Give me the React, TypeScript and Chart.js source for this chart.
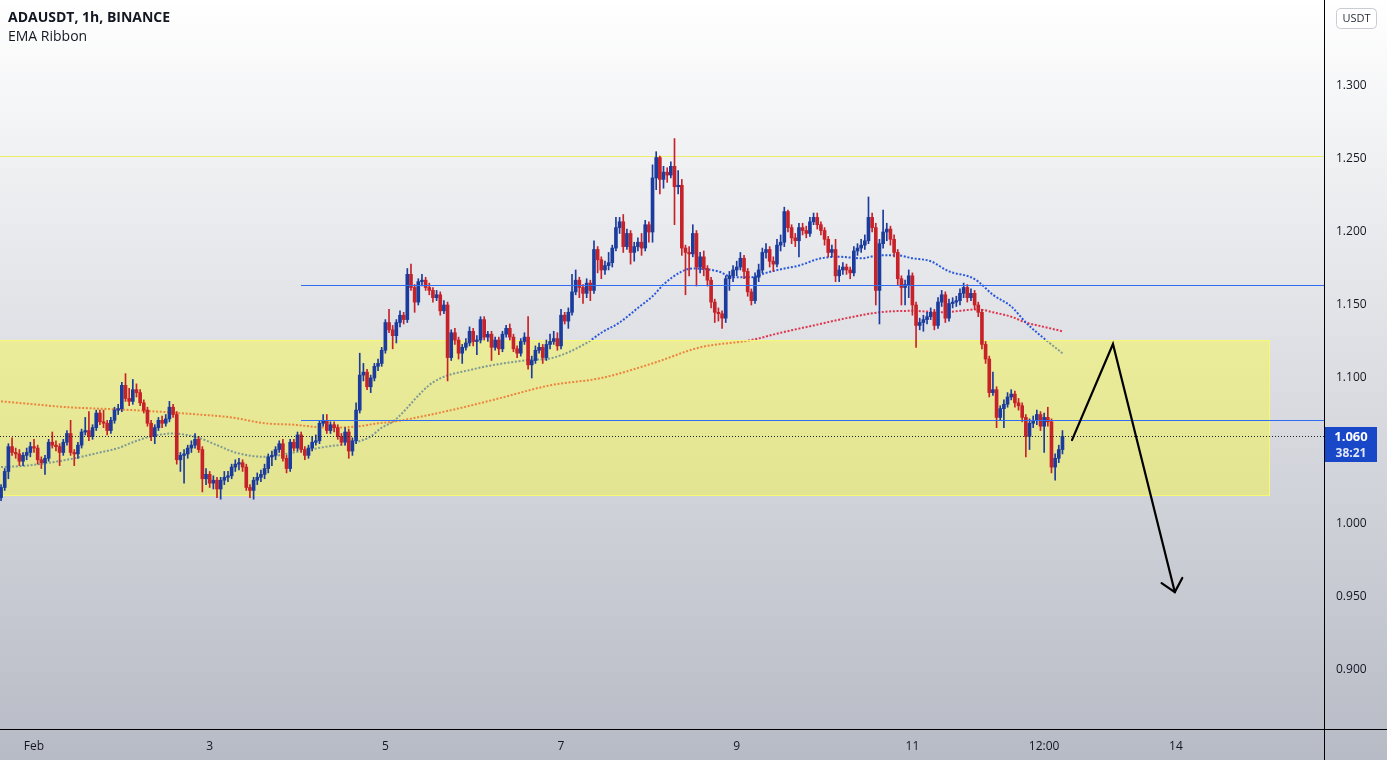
import React, { useEffect, useRef } from 'react';
import { Chart, registerables } from 'chart.js';

Chart.register(...registerables);

// ---------- data (ADAUSDT 1h candles, index 0 = Jan 31 15:00) ----------
const firstOpen = 1.018;
const closes = [
  1.025,1.036,1.053,1.049,1.048,1.043,1.047,1.049,1.053,1.052,
  1.044,1.042,1.045,1.056,1.054,1.053,1.049,1.056,1.062,1.049,
  1.048,1.054,1.063,1.064,1.060,1.066,1.076,1.070,1.069,1.064,
  1.071,1.078,1.079,1.095,1.086,1.084,1.092,1.090,1.083,1.078,
  1.069,1.060,1.066,1.071,1.069,1.072,1.080,1.075,1.044,1.047,
  1.048,1.052,1.054,1.058,1.051,1.031,1.034,1.028,1.030,1.024,
  1.030,1.032,1.033,1.039,1.041,1.042,1.039,1.025,1.023,1.030,
  1.032,1.034,1.038,1.046,1.047,1.051,1.055,1.045,1.038,1.056,
  1.052,1.061,1.051,1.047,1.052,1.056,1.057,1.069,1.071,1.064,
  1.068,1.066,1.060,1.056,1.063,1.050,1.057,1.078,1.102,1.104,
  1.094,1.100,1.108,1.110,1.119,1.138,1.133,1.129,1.138,1.143,
  1.140,1.171,1.162,1.152,1.166,1.167,1.162,1.160,1.155,1.157,
  1.146,1.150,1.114,1.131,1.126,1.117,1.121,1.124,1.132,1.125,
  1.126,1.140,1.128,1.130,1.121,1.126,1.120,1.130,1.134,1.128,
  1.120,1.117,1.125,1.128,1.109,1.112,1.119,1.121,1.114,1.123,
  1.125,1.127,1.122,1.143,1.139,1.145,1.159,1.167,1.162,1.158,
  1.165,1.160,1.188,1.181,1.174,1.177,1.179,1.189,1.203,1.207,
  1.190,1.199,1.186,1.190,1.193,1.189,1.205,1.200,1.237,1.251,
  1.236,1.241,1.239,1.245,1.231,1.232,1.189,1.186,1.185,1.199,
  1.176,1.183,1.175,1.167,1.152,1.145,1.144,1.141,1.168,1.170,
  1.174,1.176,1.182,1.173,1.159,1.153,1.169,1.174,1.186,1.188,
  1.180,1.178,1.191,1.193,1.214,1.203,1.196,1.194,1.203,1.201,
  1.199,1.207,1.210,1.205,1.201,1.195,1.186,1.188,1.170,1.174,
  1.176,1.174,1.172,1.187,1.189,1.191,1.194,1.210,1.203,1.160,
  1.192,1.200,1.202,1.195,1.186,1.168,1.162,1.164,1.170,1.150,
  1.136,1.138,1.140,1.142,1.145,1.136,1.152,1.157,1.141,1.151,
  1.152,1.153,1.158,1.162,1.155,1.158,1.150,1.145,1.123,1.113,
  1.090,1.092,1.073,1.079,1.082,1.087,1.089,1.083,1.081,1.073,
  1.060,1.069,1.071,1.075,1.067,1.073,1.070,1.039,1.045,1.051,1.060,
];
const highs = [
  1.027,1.038,1.055,1.059,1.052,1.051,1.049,1.052,1.056,1.058,
  1.054,1.046,1.047,1.058,1.063,1.057,1.055,1.058,1.064,1.071,
  1.051,1.056,1.065,1.073,1.077,1.068,1.078,1.078,1.078,1.071,
  1.073,1.080,1.082,1.097,1.103,1.093,1.099,1.096,1.092,1.085,
  1.080,1.071,1.068,1.073,1.074,1.075,1.084,1.082,1.077,1.049,
  1.051,1.054,1.057,1.062,1.060,1.053,1.038,1.036,1.033,1.032,
  1.032,1.036,1.036,1.041,1.044,1.045,1.044,1.041,1.027,1.032,
  1.035,1.037,1.041,1.048,1.050,1.053,1.057,1.058,1.047,1.058,
  1.058,1.063,1.063,1.053,1.054,1.060,1.061,1.071,1.075,1.075,
  1.070,1.070,1.068,1.062,1.066,1.065,1.059,1.083,1.117,1.110,
  1.106,1.102,1.110,1.113,1.121,1.140,1.147,1.136,1.140,1.146,
  1.145,1.175,1.178,1.164,1.168,1.171,1.169,1.165,1.162,1.160,
  1.159,1.153,1.152,1.133,1.134,1.128,1.123,1.127,1.135,1.134,
  1.129,1.142,1.142,1.132,1.132,1.128,1.128,1.132,1.136,1.137,
  1.130,1.122,1.127,1.131,1.142,1.115,1.122,1.124,1.123,1.126,
  1.130,1.132,1.131,1.147,1.145,1.148,1.171,1.174,1.169,1.164,
  1.168,1.167,1.194,1.190,1.183,1.180,1.186,1.191,1.210,1.210,
  1.212,1.202,1.201,1.193,1.196,1.199,1.208,1.207,1.246,1.255,
  1.252,1.245,1.244,1.248,1.264,1.242,1.236,1.191,1.190,1.205,
  1.201,1.186,1.187,1.177,1.169,1.154,1.148,1.146,1.170,1.173,
  1.177,1.180,1.186,1.184,1.175,1.161,1.172,1.178,1.189,1.192,
  1.190,1.183,1.195,1.198,1.217,1.215,1.205,1.199,1.206,1.206,
  1.204,1.210,1.213,1.213,1.207,1.203,1.197,1.191,1.195,1.177,
  1.179,1.178,1.176,1.190,1.192,1.195,1.198,1.224,1.213,1.206,
  1.195,1.215,1.206,1.204,1.198,1.188,1.170,1.167,1.174,1.172,
  1.152,1.141,1.143,1.145,1.148,1.147,1.155,1.160,1.159,1.154,
  1.155,1.156,1.161,1.165,1.164,1.161,1.160,1.152,1.147,1.125,
  1.115,1.104,1.094,1.081,1.085,1.090,1.092,1.091,1.086,1.083,
  1.075,1.072,1.074,1.078,1.077,1.076,1.080,1.072,1.048,1.054,1.064,
];
const lows = [
  1.016,1.023,1.031,1.047,1.045,1.040,1.040,1.044,1.046,1.049,
  1.041,1.038,1.034,1.043,1.052,1.050,1.040,1.047,1.054,1.047,
  1.040,1.045,1.052,1.061,1.057,1.058,1.064,1.068,1.066,1.061,
  1.062,1.069,1.075,1.077,1.084,1.081,1.082,1.087,1.081,1.076,
  1.067,1.057,1.055,1.064,1.066,1.067,1.070,1.073,1.041,1.036,
  1.028,1.045,1.049,1.052,1.049,1.022,1.027,1.025,1.024,1.018,
  1.017,1.027,1.029,1.031,1.036,1.037,1.036,1.023,1.018,1.017,
  1.027,1.029,1.031,1.035,1.040,1.044,1.049,1.043,1.035,1.036,
  1.050,1.050,1.049,1.044,1.045,1.050,1.054,1.055,1.067,1.062,
  1.062,1.063,1.058,1.054,1.054,1.045,1.047,1.055,1.076,1.098,
  1.092,1.090,1.098,1.105,1.108,1.117,1.131,1.120,1.124,1.135,
  1.137,1.138,1.160,1.145,1.150,1.163,1.160,1.157,1.152,1.153,
  1.143,1.144,1.098,1.112,1.123,1.113,1.110,1.119,1.122,1.122,
  1.116,1.124,1.126,1.125,1.112,1.119,1.116,1.118,1.128,1.126,
  1.118,1.114,1.115,1.123,1.106,1.100,1.110,1.117,1.110,1.112,
  1.120,1.123,1.119,1.120,1.137,1.134,1.143,1.157,1.155,1.151,
  1.155,1.153,1.158,1.172,1.168,1.171,1.174,1.176,1.187,1.199,
  1.186,1.188,1.178,1.180,1.187,1.184,1.187,1.193,1.193,1.229,
  1.226,1.230,1.234,1.237,1.205,1.226,1.184,1.157,1.170,1.183,
  1.163,1.172,1.170,1.163,1.148,1.138,1.139,1.134,1.138,1.160,
  1.166,1.170,1.174,1.168,1.156,1.150,1.151,1.166,1.172,1.182,
  1.176,1.173,1.176,1.187,1.190,1.200,1.192,1.190,1.183,1.198,
  1.196,1.197,1.205,1.202,1.198,1.191,1.183,1.183,1.166,1.166,
  1.171,1.171,1.168,1.170,1.184,1.186,1.188,1.192,1.200,1.150,
  1.137,1.189,1.194,1.191,1.183,1.164,1.150,1.150,1.155,1.143,
  1.121,1.133,1.132,1.137,1.140,1.133,1.134,1.149,1.138,1.139,
  1.148,1.149,1.150,1.155,1.152,1.153,1.147,1.142,1.120,1.110,
  1.087,1.088,1.066,1.071,1.066,1.080,1.085,1.080,1.078,1.070,
  1.046,1.051,1.066,1.068,1.064,1.049,1.067,1.035,1.030,1.042,1.048,
];

// EMA ribbon values read at sampled candle indices
const emaFastIdx = [0,7,18,27,32,36,41,47,54,59,64,72,80,89,97,101,104,107,118,129,143,151,160,164,169,174,178,181,186,189,196,200,205,209,214,218,224,229,235,240,245,249,254,259,265,267,271,276,280,285,290];
const emaFast = [1.039,1.040,1.044,1.049,1.052,1.056,1.060,1.062,1.059,1.054,1.049,1.046,1.049,1.053,1.056,1.060,1.066,1.070,1.097,1.106,1.112,1.114,1.124,1.131,1.138,1.148,1.156,1.164,1.173,1.175,1.173,1.169,1.169,1.172,1.175,1.177,1.182,1.183,1.182,1.184,1.184,1.182,1.180,1.173,1.169,1.166,1.157,1.149,1.138,1.127,1.117];
const emaSlowIdx = [0,9,18,27,36,54,63,72,80,89,98,103,107,123,136,150,164,178,191,205,213,222,231,240,249,257,267,271,276,280,285,290];
const emaSlow = [1.084,1.082,1.080,1.079,1.078,1.075,1.073,1.069,1.068,1.066,1.067,1.069,1.070,1.078,1.086,1.095,1.100,1.110,1.121,1.126,1.131,1.136,1.141,1.145,1.146,1.145,1.147,1.145,1.142,1.138,1.135,1.132];

const xTickIdx = [9, 57, 105, 153, 201, 249, 285, 321];
const xTickLabels = ['Feb', '3', '5', '7', '9', '11', '12:00', '14'];
const yTicks = [0.9, 0.95, 1.0, 1.05, 1.1, 1.15, 1.2, 1.25, 1.3];

// drawings
const resistanceLevel = 1.252;
const blueLevels = [1.1637, 1.0712];
const blueLevelStart = 82;
const lastPrice = 1.06;
const countdown = '38:21';
const zoneTop = 1.126;
const zoneBottom = 1.0192;
const zoneEnd = 346.7;
const arrowIdx = [292.6, 303.8, 320.7];
const arrowPrice = [1.0575, 1.1233, 0.9534];

const X_MIN = -0.29;
const X_MAX = 361.46;
const Y_MIN = 0.8596;
const Y_MAX = 1.3589;
const UP = '#1b3c9c';
const DOWN = '#c62229';
const FONT = '"Open Sans", "Noto Sans", "DejaVu Sans", sans-serif';
const TEXT = '#131722';

const opens = closes.map((c, i) => (i === 0 ? firstOpen : closes[i - 1]));
const candleColors = closes.map((c, i) => (c >= opens[i] ? UP : DOWN));

const overlayPlugin = {
  id: 'overlay',
  beforeDraw(chart: any) {
    const { ctx, width, height } = chart;
    const g = ctx.createLinearGradient(0, 0, 0, height);
    g.addColorStop(0, '#ffffff');
    g.addColorStop(1, '#b7bbc5');
    ctx.save();
    ctx.fillStyle = g;
    ctx.fillRect(0, 0, width, height);
    ctx.restore();
  },
  beforeDatasetDraw(chart: any, args: any) {
    if (args.index !== 2) return;
    const { ctx, chartArea: ca, scales } = chart;
    const x = scales.x, y = scales.y;
    ctx.save();
    ctx.beginPath();
    ctx.rect(ca.left, ca.top, ca.right - ca.left, ca.bottom - ca.top);
    ctx.clip();
    // yellow zone
    const x0 = x.getPixelForValue(X_MIN);
    const x1 = x.getPixelForValue(zoneEnd);
    const yT = y.getPixelForValue(zoneTop);
    const yB = y.getPixelForValue(zoneBottom);
    ctx.fillStyle = 'rgba(255,255,40,0.40)';
    ctx.fillRect(x0, yT, x1 - x0, yB - yT);
    ctx.strokeStyle = 'rgba(250,250,110,0.9)';
    ctx.lineWidth = 1;
    ctx.strokeRect(Math.round(x0) - 0.5, Math.round(yT) + 0.5, Math.round(x1 - x0), Math.round(yB - yT) - 1);
    // resistance line
    const yr = Math.round(y.getPixelForValue(resistanceLevel)) + 0.5;
    ctx.strokeStyle = '#eded6a';
    ctx.lineWidth = 1;
    ctx.beginPath();
    ctx.moveTo(ca.left, yr);
    ctx.lineTo(ca.right, yr);
    ctx.stroke();
    ctx.restore();
  },
  afterDatasetsDraw(chart: any) {
    const { ctx, chartArea: ca, scales } = chart;
    const x = scales.x, y = scales.y;
    ctx.save();
    // blue levels
    const xs = Math.round(x.getPixelForValue(blueLevelStart));
    ctx.fillStyle = '#2f6cf2';
    for (let k = 0; k < blueLevels.length; k++) {
      const yy = Math.round(y.getPixelForValue(blueLevels[k]));
      ctx.fillRect(xs, yy, ca.right - xs, 1);
    }
    // last price dotted line
    const yy = Math.round(y.getPixelForValue(lastPrice)) + 0.5;
    ctx.strokeStyle = '#1e222d';
    ctx.lineWidth = 1;
    ctx.setLineDash([1, 2]);
    ctx.beginPath();
    ctx.moveTo(ca.left, yy);
    ctx.lineTo(ca.right, yy);
    ctx.stroke();
    ctx.restore();
  },
  afterDraw(chart: any) {
    const { ctx, chartArea: ca, scales, width, height } = chart;
    const x = scales.x, y = scales.y;
    ctx.save();
    // arrow
    const pts = arrowIdx.map((v, i) => [x.getPixelForValue(v), y.getPixelForValue(arrowPrice[i])]);
    ctx.strokeStyle = '#000000';
    ctx.lineWidth = 2.2;
    ctx.lineCap = 'round';
    ctx.lineJoin = 'miter';
    ctx.beginPath();
    ctx.moveTo(pts[0][0], pts[0][1]);
    ctx.lineTo(pts[1][0], pts[1][1]);
    ctx.lineTo(pts[2][0], pts[2][1]);
    ctx.stroke();
    const [px, py] = pts[1];
    const [tx, ty] = pts[2];
    const ang = Math.atan2(py - ty, px - tx);
    const L = 16, sp = 0.73;
    ctx.beginPath();
    ctx.moveTo(tx + L * Math.cos(ang - sp), ty + L * Math.sin(ang - sp));
    ctx.lineTo(tx, ty);
    ctx.lineTo(tx + L * Math.cos(ang + sp), ty + L * Math.sin(ang + sp));
    ctx.stroke();

    // axis frame lines
    ctx.fillStyle = '#000000';
    ctx.fillRect(Math.round(ca.right), 0, 1, height);
    ctx.fillRect(0, Math.round(ca.bottom), width, 1);

    // header
    ctx.fillStyle = TEXT;
    ctx.textAlign = 'left';
    ctx.textBaseline = 'middle';
    ctx.font = `bold 14px ${FONT}`;
    ctx.fillText('ADAUSDT, 1h, BINANCE', 8, 18);
    ctx.font = `14px ${FONT}`;
    ctx.fillText('EMA Ribbon', 8, 37);

    // USDT box
    const bx = Math.round(ca.right) + 12.5;
    ctx.beginPath();
    (ctx as any).roundRect(bx, 8.5, 40, 20, 4);
    ctx.fillStyle = '#ffffff';
    ctx.fill();
    ctx.strokeStyle = '#c9ccd4';
    ctx.lineWidth = 1;
    ctx.stroke();
    ctx.fillStyle = '#2a2e39';
    ctx.font = `11px ${FONT}`;
    ctx.textAlign = 'center';
    ctx.fillText('USDT', bx + 20, 19);

    // last price label
    const ly = y.getPixelForValue(lastPrice);
    const lx = Math.round(ca.right) + 1;
    ctx.fillStyle = '#1848c8';
    ctx.fillRect(lx, Math.round(ly) - 9, 52, 35);
    ctx.fillStyle = '#ffffff';
    ctx.font = `bold 13px ${FONT}`;
    ctx.textAlign = 'center';
    ctx.fillText(lastPrice.toFixed(3), lx + 26, ly + 1);
    ctx.fillStyle = '#e3e8f7';
    ctx.font = `bold 12px ${FONT}`;
    ctx.fillText(countdown, lx + 26, ly + 17);
    ctx.restore();
  },
};

export default function App() {
  const canvasRef = useRef<HTMLCanvasElement | null>(null);

  useEffect(() => {
    document.body.style.margin = '0';
    const canvas = canvasRef.current;
    if (!canvas) return;

    const wickData = closes.map((c, i) => ({ x: i, y: [lows[i], highs[i]] }));
    const bodyData = closes.map((c, i) => ({ x: i, y: [opens[i], c] }));
    const fastData = emaFastIdx.map((v, i) => ({ x: v, y: emaFast[i] }));
    const slowData = emaSlowIdx.map((v, i) => ({ x: v, y: emaSlow[i] }));

    const chart = new Chart(canvas, {
      type: 'bar',
      data: {
        datasets: [
          {
            type: 'line',
            label: 'EMA slow',
            data: slowData as any,
            borderColor: '#e2344e',
            borderWidth: 2,
            borderDash: [2, 1.7],
            pointRadius: 0,
            cubicInterpolationMode: 'monotone',
            order: 4,
          } as any,
          {
            type: 'line',
            label: 'EMA fast',
            data: fastData as any,
            borderColor: '#2957dc',
            borderWidth: 2,
            borderDash: [2, 1.7],
            pointRadius: 0,
            cubicInterpolationMode: 'monotone',
            order: 3,
          } as any,
          {
            type: 'bar',
            label: 'wicks',
            data: wickData as any,
            backgroundColor: candleColors,
            barThickness: 1,
            grouped: false,
            borderWidth: 0,
            order: 2,
          } as any,
          {
            type: 'bar',
            label: 'bodies',
            data: bodyData as any,
            backgroundColor: candleColors,
            barThickness: 3,
            minBarLength: 1,
            grouped: false,
            borderWidth: 0,
            borderSkipped: false,
            order: 1,
          } as any,
        ],
      },
      options: {
        animation: false,
        responsive: false,
        devicePixelRatio: 1,
        events: [],
        layout: { padding: 0 },
        plugins: {
          legend: { display: false },
          tooltip: { enabled: false },
          title: { display: false },
        },
        scales: {
          x: {
            type: 'linear',
            min: X_MIN,
            max: X_MAX,
            offset: false,
            grid: { display: false, drawTicks: false },
            border: { display: false },
            ticks: {
              autoSkip: false,
              maxRotation: 0,
              padding: 10,
              color: TEXT,
              font: { family: FONT, size: 12 },
              callback: (_v: any, i: number) => xTickLabels[i],
            },
            afterBuildTicks: (scale: any) => {
              scale.ticks = xTickIdx.map((v) => ({ value: v }));
            },
            afterFit: (scale: any) => {
              scale.height = 31;
              scale.paddingLeft = 0;
              scale.paddingRight = 0;
            },
          },
          y: {
            type: 'linear',
            position: 'right',
            min: Y_MIN,
            max: Y_MAX,
            grid: { display: false, drawTicks: false },
            border: { display: false },
            ticks: {
              padding: 12,
              color: TEXT,
              font: { family: FONT, size: 12 },
              callback: (v: any) => Number(v).toFixed(3),
            },
            afterBuildTicks: (scale: any) => {
              scale.ticks = yTicks.map((v) => ({ value: v }));
            },
            afterFit: (scale: any) => {
              scale.width = 63;
              scale.paddingTop = 0;
              scale.paddingBottom = 0;
            },
          },
        },
      } as any,
      plugins: [overlayPlugin],
    });

    return () => {
      chart.destroy();
    };
  }, []);

  return (
    <div style={{ width: 1387, height: 760 }}>
      <canvas ref={canvasRef} width={1387} height={760} style={{ display: 'block' }} />
    </div>
  );
}
